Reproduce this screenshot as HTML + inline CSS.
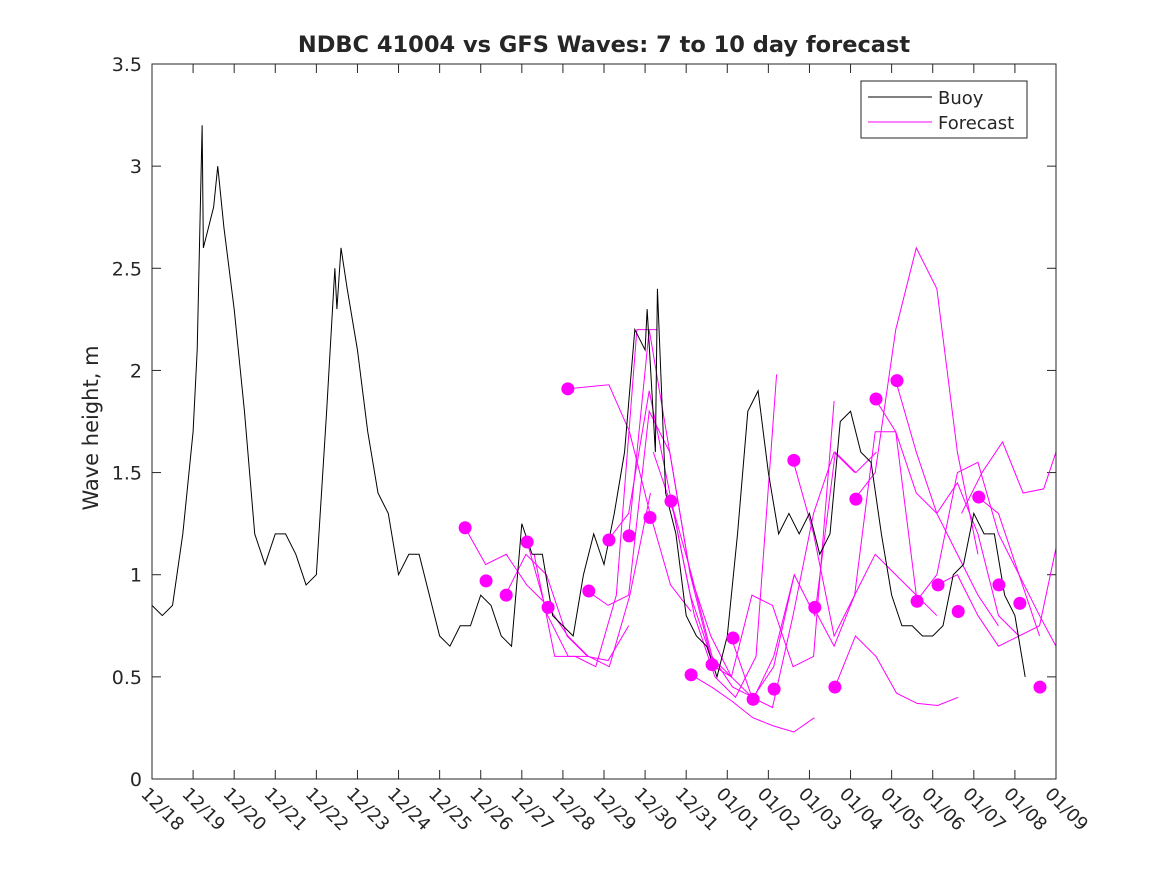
<!DOCTYPE html>
<html><head><meta charset="utf-8"><style>
body{margin:0;background:#fff}
svg text{font-family:"DejaVu Sans","Liberation Sans",sans-serif;fill:#262626}
</style></head><body>
<svg id="chart" width="1167" height="875" xmlns="http://www.w3.org/2000/svg">
<rect width="1167" height="875" fill="#fff"/>
<text x="604" y="52" text-anchor="middle" font-size="22.5" font-weight="bold" fill="#000">NDBC 41004 vs GFS Waves: 7 to 10 day forecast</text>
<text transform="translate(98,428) rotate(-90)" text-anchor="middle" font-size="21">Wave height, m</text>
<g id="grid"></g>
<g id="series"></g>
<rect x="152" y="64" width="904" height="715" fill="none" stroke="#262626" stroke-width="1"/>
<g>
<rect x="861" y="81" width="166" height="57" fill="#fff" stroke="#262626"/>
<line x1="868" y1="97" x2="932" y2="97" stroke="#000"/>
<text x="938" y="104" font-size="18">Buoy</text>
<line x1="868" y1="122" x2="932" y2="122" stroke="#ff00ff"/>
<text x="938" y="129" font-size="18">Forecast</text>
</g>
</svg>
<script>
const xTickLabels=["12/18","12/19","12/20","12/21","12/22","12/23","12/24","12/25","12/26","12/27","12/28","12/29","12/30","12/31","01/01","01/02","01/03","01/04","01/05","01/06","01/07","01/08","01/09"];
const yTicks=[0,0.5,1,1.5,2,2.5,3,3.5];
const yTickLabels=["0","0.5","1","1.5","2","2.5","3","3.5"];
const buoyValues=[0.85,0.8,0.85,1.2,1.7,2.6,2.8,2.7,2.3,1.8,1.2,1.05,1.2,1.2,1.1,0.95,1.0,1.8,2.3,2.4,2.1,1.7,1.4,1.3,1.0,1.1,1.1,0.9,0.7,0.65,0.75,0.75,0.9,0.85,0.7,0.65,1.25,1.1,1.1,0.8,0.75,0.7,1.0,1.2,1.05,1.3,1.6,2.2,2.1,1.6,1.4,1.2,0.8,0.7,0.65,0.5,0.7,1.2,1.8,1.9,1.5,1.2,1.3,1.2,1.3,1.1,1.2,1.75,1.8,1.6,1.55,1.2,0.9,0.75,0.75,0.7,0.7,0.75,1.0,1.05,1.3,1.2,1.2,0.9,0.8,0.5];
const buoyPeaks=[[1.22,3.2],[1.6,3.0],[4.6,2.6],[4.45,2.5],[12.3,2.4],[12.05,2.3],[1.1,2.1]];
const dotDays=[7.62,8.13,8.62,9.13,9.64,10.12,10.63,11.12,11.61,12.12,12.63,13.12,13.63,14.14,14.63,15.14,15.62,16.13,16.62,17.13,17.62,18.13,18.62,19.13,19.62,20.12,20.61,21.12,21.61];
const dotValues=[1.23,0.97,0.90,1.16,0.84,1.91,0.92,1.17,1.19,1.28,1.36,0.51,0.56,0.69,0.39,0.44,1.56,0.84,0.45,1.37,1.86,1.95,0.87,0.95,0.82,1.38,0.95,0.86,0.45];
const fcStarts=[7.62,8.6,9.13,9.3,10.12,10.6,11.1,11.6,12.2,12.63,13.12,13.6,14.1,14.63,15.6,16.1,16.62,17.1,17.6,18.1,18.6,19.1,19.7,20.1];
const fcValues=[
[1.23,1.05,1.1,0.95,0.85,0.7,0.6],
[0.9,1.1,1.0,0.7,0.6,0.58,0.75],
[1.16,0.8,0.6,0.6,0.55,0.9,1.4],
[1.1,0.6,0.6,0.55,0.9,2.2,2.2],
[1.91,1.92,1.93,1.7,1.3,0.95,0.82],
[0.92,0.85,0.9,1.8,1.6,1.0,0.6],
[1.17,1.3,1.9,1.4,0.9,0.6,0.5],
[1.19,2.2,1.6,1.0,0.7,0.5,0.4],
[1.6,1.3,0.8,0.5,0.4,0.6,1.98],
[1.36,1.0,0.6,0.45,0.4,0.55,1.0],
[0.51,0.45,0.38,0.3,0.26,0.23,0.3],
[0.56,0.5,0.9,0.85,0.55,0.6,1.85],
[0.69,0.4,0.35,0.8,1.3,1.6,1.5],
[0.39,0.6,1.0,0.8,1.6,1.5,1.6],
[1.56,1.2,0.7,0.9,1.7,1.7,0.9],
[0.84,0.65,0.9,1.1,1.0,0.9,0.8],
[0.45,0.7,0.6,0.42,0.37,0.36,0.4],
[1.37,1.5,2.2,2.6,2.4,1.6,1.1],
[1.86,1.7,1.4,1.3,1.1,0.9,0.75],
[1.95,1.6,1.3,1.45,1.2,0.8,0.7],
[0.87,1.0,1.5,1.55,1.2,1.0,0.7],
[0.95,1.0,0.8,0.65,0.7,0.75,1.13],
[1.3,1.5,1.65,1.4,1.42,1.6,2.1],
[1.38,1.3,1.0,0.8,0.65,0.5,0.4]
];
const NS="http://www.w3.org/2000/svg";
const X0=152,X1=1056,Y0=779,Y1=64;
function xs(d){return X0+(X1-X0)*d/22;}
function ys(v){return Y0-(Y0-Y1)*v/3.5;}
function mk(tag,attrs,parent){const e=document.createElementNS(NS,tag);for(const k in attrs)e.setAttribute(k,attrs[k]);parent.appendChild(e);return e;}
const grid=document.getElementById('grid'),ser=document.getElementById('series');
xTickLabels.forEach((lab,i)=>{
 const x=xs(i);
 const t1=mk('line',{x1:x,y1:Y0,x2:x,y2:Y0-9,stroke:'#262626'},grid);
 
 
 const t2=mk('line',{x1:x,y1:Y1,x2:x,y2:Y1+9,stroke:'#262626'},grid);
 
 
 const tx=mk('text',{x:0,y:0,'font-size':18,transform:`translate(${x-12},${Y0+16}) rotate(45)`},grid);
 tx.textContent=lab;
 
 
});
yTicks.forEach((v,i)=>{
 const y=ys(v);
 const a=mk('line',{x1:X0,y1:y,x2:X0+9,y2:y,stroke:'#262626'},grid);
 
 
 const b=mk('line',{x1:X1,y1:y,x2:X1-9,y2:y,stroke:'#262626'},grid);
 
 
 const tx=mk('text',{x:X0-10,y:y+7,'text-anchor':'end','font-size':19},grid);
 tx.textContent=yTickLabels[i];
 
 
});
fcValues.forEach((vals,i)=>{
 const pts=vals.map((v,j)=>xs(Math.min(22,fcStarts[i]+0.5*j))+','+ys(v)).join(' ');
 const p=mk('polyline',{points:pts,fill:'none',stroke:'#ff00ff','stroke-width':1},ser);
 
 
});
let bp=buoyValues.map((v,i)=>[i*0.25,v]);
buoyPeaks.forEach(p=>bp.push(p));
bp.sort((a,b)=>a[0]-b[0]);
const s=bp.map(([d,v])=>xs(d)+','+ys(v)).join(' ');
const bl=mk('polyline',{points:s,fill:'none',stroke:'#000','stroke-width':1},ser);


dotDays.forEach((d,i)=>{
 const c=mk('circle',{cx:xs(d),cy:ys(dotValues[i]),r:6.5,fill:'#ff00ff'},ser);
 
 
});
</script>
</body></html>
